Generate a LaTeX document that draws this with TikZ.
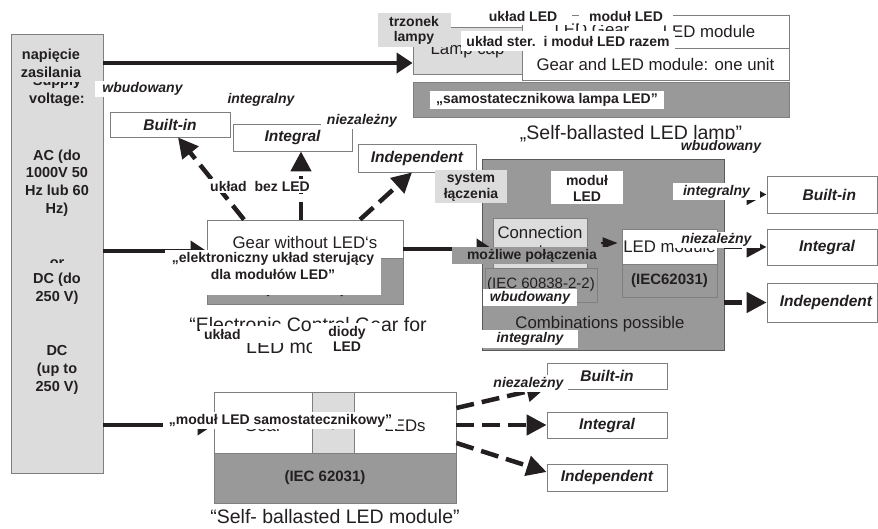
\documentclass[tikz,border=0pt]{standalone}
\usepackage{fontspec}
\setmainfont{Liberation Sans}
\usepackage{xcolor}
\usepackage{tikz}
\usetikzlibrary{arrows.meta}
\definecolor{ink}{HTML}{231F20}
\definecolor{lgray}{HTML}{DCDCDC}
\definecolor{dgray}{HTML}{999999}
\definecolor{bordc}{HTML}{7F7F7F}
\newcommand{\fs}[2]{\fontsize{#1}{#2}\selectfont}

\begin{document}
\begin{tikzpicture}[x=1pt,y=-1pt,
  every node/.style={text=ink,inner sep=0pt},
  box/.style={draw=bordc,line width=.8pt,fill=white},
  lbox/.style={box,fill=lgray},
  dbox/.style={box,fill=dgray},
  eng/.style={font=\fs{16.8}{18},align=center},
  captxt/.style={font=\fs{19.5}{22},align=center},
  sup/.style={font=\bfseries\fs{14.5}{17.7},align=center},
  tag/.style={fill=white,inner xsep=4pt,inner ysep=1.5pt,font=\bfseries\fs{14}{16.5},align=center},
  itag/.style={tag,font=\bfseries\itshape\fs{14}{16.5}},
  opt/.style={box,font=\bfseries\itshape\fs{15.5}{17}},
  feed/.style={ink,line width=4pt,-{Triangle[length=16pt,width=20pt]}},
  darr/.style={ink,line width=4.5pt,dash pattern=on 18pt off 8pt,-{Triangle[length=20pt,width=20pt]}}]
\useasboundingbox (0,0) rectangle (878,529);

% supply voltage
\node[lbox,minimum width=92pt,minimum height=439pt] (supply) at (57,253.5) {};
\node[sup] (sv) at (57,91) {Supply\\voltage:};
\node[sup] (svor) at (57,264) {or};
\node[sup] (svdc) at (57,370) {DC\\(up to\\250 V)};

% self-ballasted lamp
\node[lbox,minimum width=109pt,minimum height=47pt,eng] (lampcap) at (467.5,50.5) {Lamp cap};
\node[box,minimum width=267pt,minimum height=33pt] (lamptop) at (655.5,31.5) {};
\node[box,minimum width=267pt,minimum height=32pt,eng] (lampmid) at (655.5,64) {Gear and LED module: one unit};
\node[dbox,minimum width=376pt,minimum height=35pt] (lampbar) at (601,99.5) {};
\node[eng] (ledgear) at (592,30) {LED Gear};
\node[eng] (ledmodt) at (709,31) {LED module};
\node[captxt] (caplamp) at (631,134.5) {„Self-ballasted LED lamp”};

% gear without LEDs
\node[opt,minimum width=120pt,minimum height=25pt] (bltl) at (170,124.5) {Built-in};
\node[opt,minimum width=119pt,minimum height=27pt] (intl) at (292.5,137.5) {Integral};
\node[opt,minimum width=118pt,minimum height=28pt] (indl) at (417,158) {Independent};
\node[box,minimum width=196pt,minimum height=84pt] (gear) at (305,262) {};
\node[dbox,minimum width=196pt,minimum height=46pt] (geariec) at (305,281) {};
\node[eng] at (305,242) {Gear without LED‘s};
\node[font=\bfseries\fs{15}{17}] at (305,290) {(IEC 61347)};
\node[captxt] (capecg) at (308,336) {“Electronic Control Gear for\\LED modules”};

% combinations
\node[box,fill=dgray,draw=bordc!70!black,minimum width=242pt,minimum height=191pt] (combo) at (603,254.5) {};
\node[lbox,minimum width=94pt,minimum height=50pt,eng] (conn) at (540,243) {Connection\\system};
\node[dbox,minimum width=112pt,minimum height=34pt,font=\fs{15}{17}] (conniec) at (541,285) {(IEC 60838-2-2)};
\node[box,minimum width=95pt,minimum height=35pt,eng] (ledmod) at (669.5,246.5) {LED module};
\node[dbox,minimum width=95pt,minimum height=33pt,font=\bfseries\fs{15}{17}] (ledmodiec) at (669.5,280.5) {(IEC62031)};
\node[eng] at (600,324) {Combinations possible};
\node[opt,minimum width=110pt,minimum height=37pt,text width=100pt,align=right] (bltr) at (822,194.5) {Built-in\hspace*{16pt}};
\node[opt,minimum width=110pt,minimum height=36pt,text width=100pt,align=right] (intr) at (822,247) {Integral\hspace*{17pt}};
\node[opt,minimum width=110pt,minimum height=39pt,text width=100pt,align=right] (indr) at (822,302.5) {Independent\hspace*{0pt}};

% self-ballasted module
\node[box,minimum width=242pt,minimum height=61pt] (module) at (335,422.5) {};
\node[lbox,minimum width=42pt,minimum height=61pt] (plus) at (333,422.5) {};
\node[dbox,minimum width=242pt,minimum height=50pt] (moduleiec) at (335,478) {};
\node[eng] at (263,426) {Gear};
\node[eng] at (333,427) {+};
\node[eng] at (405,426) {LEDs};
\node[font=\bfseries\fs{15}{17}] at (325,478) {(IEC 62031)};
\node[captxt] (capmod) at (335,517) {“Self- ballasted LED module”};
\node[opt,minimum width=120pt,minimum height=26pt] (bltb) at (607,376) {Built-in};
\node[opt,minimum width=120pt,minimum height=26pt] (intb) at (607,425) {Integral};
\node[opt,minimum width=120pt,minimum height=27pt] (indb) at (607,477.5) {Independent};

% connectors
\draw[feed] (supply.east |- 0,63) -- (lampcap.west |- 0,63);
\draw[feed] (supply.east |- 0,251) -- (gear.west |- 0,251);
\draw[feed] (supply.east |- 0,425) -- (module.west |- 0,425);
\draw[feed] (gear.east |- 0,249) -- (conn.west |- 0,249);
\draw[ink,line width=2pt,shorten <=14pt,shorten >=4pt,-{Triangle[length=15pt,width=11pt]}] (conn.east |- 0,243) -- (ledmod.west |- 0,243);
\draw[darr] (244,0 |- gear.north) -- (178,0 |- bltl.south);
\draw[darr] (301,0 |- gear.north) -- (301,0 |- intl.south);
\draw[darr] (360,0 |- gear.north) -- (412,0 |- indl.south);
\draw[darr] (combo.east |- bltr) -- (bltr);
\draw[darr] (combo.east |- intr) -- (intr);
\draw[darr] (combo.east |- indr) -- (indr);
\draw[darr] (module.east |- 0,408) -- (bltb.west |- 0,387);
\draw[darr] (module.east |- intb) -- (intb);
\draw[darr] (module.east |- 0,443) -- (indb.west |- 0,472);

% polish labels
\node[sup,fill=lgray,inner sep=2pt,minimum height=38pt] (svpl) at (51,63) {napięcie\\zasilania};
\node[sup,fill=lgray,inner sep=2pt] (svac) at (57,183) {AC (do\\1000V 50\\Hz lub 60\\Hz)};
\node[sup,fill=lgray,inner xsep=2pt,inner ysep=4pt,minimum height=52pt] (svdcpl) at (57,289) {DC (do\\250 V)};
\node[tag,minimum width=98pt,minimum height=19pt] (pl1) at (523,16) {układ LED};
\node[tag,minimum width=94pt,minimum height=19pt] (pl2) at (626,16) {moduł LED};
\node[tag,minimum height=20pt,minimum width=214pt] (pl3) at (568,41) {układ ster.\ \ i moduł LED razem};
\node[tag,inner xsep=6pt,inner ysep=2.5pt] (pl4) at (547,100) {„samostatecznikowa lampa LED”};
\node[tag,fill=lgray,font=\bfseries\fs{14}{15},minimum width=73pt,minimum height=34pt] (pl5) at (414,30) {trzonek\\lampy};
\node[itag] (pl6) at (721,147) {wbudowany};
\node[itag,minimum width=95pt] (pl7) at (142.5,89) {wbudowany};
\node[itag] (pl8) at (261,100) {integralny};
\node[itag,inner xsep=6pt] (pl9) at (362,121) {niezależny};
\node[tag] (pl10) at (260,186) {układ\ \ bez LED};
\node[fill=white,minimum width=216pt,minimum height=45pt] (pl11) at (273,272.5) {};
\node[tag,fill=none] (pl12) at (273,266) {„elektroniczny układ sterujący\\dla modułów LED”};
\node[tag,text width=74pt,align=left,minimum height=17pt] (pl13) at (241,334.5) {układ};
\node[tag,font=\bfseries\fs{14}{15},minimum width=70pt,minimum height=33pt] (pl14) at (347,339) {diody\\LED};
\node[tag,fill=lgray,font=\bfseries\fs{14}{16},minimum width=72pt,minimum height=33pt] (pl15) at (471,187) {system\\łączenia};
\node[tag,font=\bfseries\fs{14}{16},minimum width=72pt,minimum height=33pt] (pl16) at (587,188) {moduł\\LED};
\node[tag,fill=dgray,minimum width=160pt,minimum height=17pt] (pl17) at (532,256) {możliwe połączenia};
\node[itag,minimum width=94pt,minimum height=17pt] (pl18) at (530,297.5) {wbudowany};
\node[itag,minimum width=96pt,minimum height=18pt] (pl19) at (530,339) {integralny};
\node[itag,minimum width=87pt,minimum height=17pt] (pl20) at (716.5,191.5) {integralny};
\node[itag,minimum width=87pt,minimum height=16pt] (pl21) at (716.5,240) {niezależny};
\node[itag,minimum width=77pt,minimum height=15pt] (pl22) at (528.5,383.5) {niezależny};
\node[tag,minimum width=235pt,minimum height=15pt] (pl23) at (280.5,420.5) {„moduł LED samostatecznikowy”};
\end{tikzpicture}
\end{document}
